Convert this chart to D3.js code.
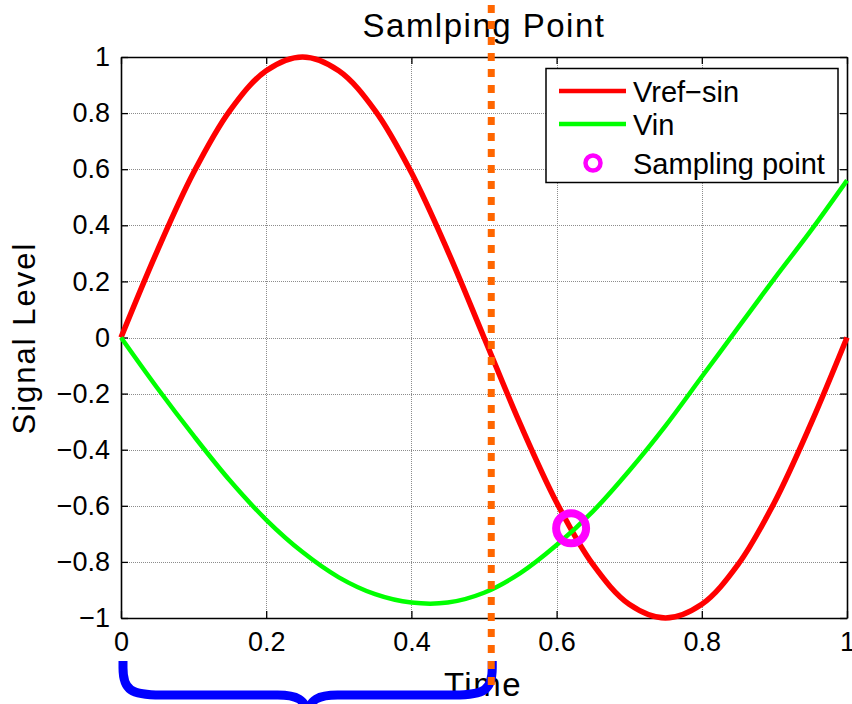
<!DOCTYPE html>
<html>
<head>
<meta charset="utf-8">
<script src="https://cdn.jsdelivr.net/npm/d3@7"></script>
<style>
  body { margin: 0; background: #fff; }
  text { font-family: "Liberation Sans", Arial, sans-serif; fill: #000; }
</style>
</head>
<body>
<svg id="chart" width="852" height="704"></svg>
<script>
// ---- data ----
const timeSteps = [0, 0.05, 0.1, 0.15, 0.2, 0.25, 0.3, 0.35, 0.4, 0.45, 0.5,
                   0.55, 0.6, 0.65, 0.7, 0.75, 0.8, 0.85, 0.9, 0.95, 1];
const vrefSin = [0, 0.309, 0.588, 0.809, 0.951, 1, 0.951, 0.809, 0.588, 0.309, 0,
                 -0.309, -0.588, -0.809, -0.951, -1, -0.951, -0.809, -0.588, -0.309, 0];
const vin = [0, -0.18, -0.35, -0.51, -0.65, -0.765, -0.855, -0.915, -0.945, -0.945, -0.91,
             -0.84, -0.74, -0.62, -0.475, -0.315, -0.14, 0.035, 0.21, 0.38, 0.56];
const samplingPoint = { t: 0.62, v: -0.68 };
const samplingTime = 0.51;
const xTicks = [0, 0.2, 0.4, 0.6, 0.8, 1];
const yTicks = [-1, -0.8, -0.6, -0.4, -0.2, 0, 0.2, 0.4, 0.6, 0.8, 1];
const seriesNames = ["Vref\u2212sin", "Vin", "Sampling point"];
const titleText = "Samlping Point";
const xLabelText = "Time";
const yLabelText = "Signal Level";

// ---- layout ----
const svg = d3.select("#chart");
const plotLeft = 121, plotRight = 847, plotTop = 57, plotBottom = 618;
const x = d3.scaleLinear().domain([0, 1]).range([plotLeft, plotRight]);
const y = d3.scaleLinear().domain([-1, 1]).range([plotBottom, plotTop]);

const fmt = v => (v < 0 ? "\u2212" : "") + String(Math.abs(v));

// grid
const grid = svg.append("g")
  .attr("stroke", "#8c8c8c").attr("stroke-width", 1).attr("stroke-dasharray", "1,1");
grid.selectAll("line.gx").data(xTicks.slice(1, -1)).join("line")
  .attr("x1", d => Math.round(x(d)) + 0.5).attr("x2", d => Math.round(x(d)) + 0.5)
  .attr("y1", plotTop).attr("y2", plotBottom);
grid.selectAll("line.gy").data(yTicks.slice(1, -1)).join("line")
  .attr("y1", d => Math.round(y(d)) + 0.5).attr("y2", d => Math.round(y(d)) + 0.5)
  .attr("x1", plotLeft).attr("x2", plotRight);

// axes (box with inward ticks)
function styleAxis(g) {
  g.select(".domain").attr("stroke", "#000").attr("stroke-width", 1.6);
  g.selectAll(".tick line").attr("stroke", "#000").attr("stroke-width", 1.3);
  g.selectAll(".tick text")
    .style("font-family", "'Liberation Sans', Arial, sans-serif")
    .style("font-size", "27px").attr("fill", "#000");
}
svg.append("g").attr("transform", `translate(0,${plotBottom})`)
  .call(d3.axisBottom(x).tickValues(xTicks).tickFormat(fmt).tickSizeInner(-7).tickSizeOuter(0).tickPadding(14))
  .call(styleAxis);
svg.append("g").attr("transform", `translate(0,${plotTop})`)
  .call(d3.axisTop(x).tickValues(xTicks).tickFormat("").tickSizeInner(-7).tickSizeOuter(0))
  .call(styleAxis);
svg.append("g").attr("transform", `translate(${plotLeft},0)`)
  .call(d3.axisLeft(y).tickValues(yTicks).tickFormat(fmt).tickSizeInner(-7).tickSizeOuter(0).tickPadding(11))
  .call(styleAxis);
svg.append("g").attr("transform", `translate(${plotRight},0)`)
  .call(d3.axisRight(y).tickValues(yTicks).tickFormat("").tickSizeInner(-7).tickSizeOuter(0))
  .call(styleAxis);

// curves
const line = d3.line().x(d => x(d[0])).y(d => y(d[1])).curve(d3.curveCatmullRom.alpha(0.5));
svg.append("path").datum(timeSteps.map((t, i) => [t, vrefSin[i]]))
  .attr("d", line).attr("fill", "none").attr("stroke", "#ff0000").attr("stroke-width", 5.5);
svg.append("path").datum(timeSteps.map((t, i) => [t, vin[i]]))
  .attr("d", line).attr("fill", "none").attr("stroke", "#00ff00").attr("stroke-width", 4.5);

// sampling point marker
svg.append("circle")
  .attr("cx", x(samplingPoint.t)).attr("cy", y(samplingPoint.v)).attr("r", 15)
  .attr("fill", "none").attr("stroke", "#ff00ff").attr("stroke-width", 8);

// title and axis labels
svg.append("text").attr("x", 484).attr("y", 37).attr("text-anchor", "middle")
  .style("font-size", "33px").style("letter-spacing", "1.5px").text(titleText);
svg.append("text").attr("x", 483).attr("y", 696).attr("text-anchor", "middle")
  .style("font-size", "33px").style("letter-spacing", "1.5px").text(xLabelText);
svg.append("text").attr("transform", "translate(35,338) rotate(-90)").attr("text-anchor", "middle")
  .style("font-size", "31px").style("letter-spacing", "2px").text(yLabelText);

// legend
const lg = svg.append("g");
lg.append("rect").attr("x", 546).attr("y", 68.5).attr("width", 292).attr("height", 114)
  .attr("fill", "#fff").attr("stroke", "#000").attr("stroke-width", 1.5);
const legendRows = [91, 124, 163];
lg.append("line").attr("x1", 559).attr("x2", 626).attr("y1", legendRows[0]).attr("y2", legendRows[0])
  .attr("stroke", "#ff0000").attr("stroke-width", 4.5);
lg.append("line").attr("x1", 559).attr("x2", 626).attr("y1", legendRows[1]).attr("y2", legendRows[1])
  .attr("stroke", "#00ff00").attr("stroke-width", 4.5);
lg.append("circle").attr("cx", 593).attr("cy", legendRows[2]).attr("r", 7.5)
  .attr("fill", "none").attr("stroke", "#ff00ff").attr("stroke-width", 4.5);
lg.selectAll("text.lt").data(seriesNames).join("text")
  .attr("x", 633).attr("y", (d, i) => legendRows[i] + 11)
  .style("font-size", "29px").text(d => d);

// sampling interval brace
const brace = svg.append("g").attr("fill", "none").attr("stroke", "#0000ff")
  .attr("stroke-width", 9).attr("stroke-linecap", "butt");
const bl = x(0) + 2, br = x(samplingTime) + 1, bm = (bl + br) / 2;
brace.append("path")
  .attr("d", `M${bl},661 V668 C${bl},690 ${bl + 8},695 ${bl + 38},695 H${bm - 30} C${bm - 10},695 ${bm - 3},700 ${bm},712`);
brace.append("path")
  .attr("d", `M${br},661 V668 C${br},690 ${br - 8},695 ${br - 38},695 H${bm + 30} C${bm + 10},695 ${bm + 3},700 ${bm},712`);

// sampling time marker
svg.append("line")
  .attr("x1", x(samplingTime)).attr("x2", x(samplingTime)).attr("y1", 5).attr("y2", 686)
  .attr("stroke", "#ff6600").attr("stroke-width", 7).attr("stroke-dasharray", "8,8");
</script>
</body>
</html>
